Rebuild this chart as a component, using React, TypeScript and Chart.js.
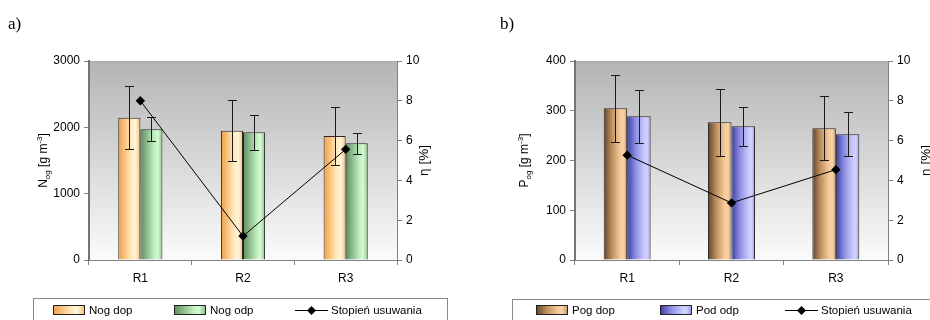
import React, { useEffect, useRef } from 'react';
import { Chart, registerables } from 'chart.js';

Chart.register(...registerables);

// ---------- data ----------
const categories = ['R1', 'R2', 'R3'];

// panel a)
const nogDopLabel = 'Nog dop';
const nogOdpLabel = 'Nog odp';
const nogDop = [2145, 1950, 1870];
const nogDopErr = [478, 462, 440];
const nogOdp = [1970, 1925, 1760];
const nogOdpErr = [180, 262, 160];
const nogEta = [8.0, 1.2, 5.56];
const nAxisMax = 3000;
const nAxisStep = 1000;

// panel b)
const pogDopLabel = 'Pog dop';
const podOdpLabel = 'Pod odp';
const pogDop = [305, 277, 265];
const pogDopErr = [67, 67, 64];
const podOdp = [289, 269, 253];
const podOdpErr = [53, 39, 44];
const pogEta = [5.27, 2.87, 4.54];
const pAxisMax = 400;
const pAxisStep = 100;

// shared right axis
const etaLabel = 'Stopień usuwania';
const etaMax = 10;
const etaStep = 2;

const FONT = "'Liberation Sans', Arial, Helvetica, sans-serif";

type Stops = [number, string][];
const orangeStops: Stops = [[0, '#f29e44'], [0.6, '#ffebc0'], [0.78, '#fff4d8'], [1, '#f7c27a']];
const greenStops: Stops = [[0, '#5c8c5c'], [0.65, '#c4f2c4'], [0.8, '#d2fad2'], [1, '#8fbf8f']];
const brownStops: Stops = [[0, '#5e4428'], [0.35, '#c09060'], [0.7, '#f6c996'], [0.85, '#f8d2a8'], [1, '#c89a68']];
const blueStops: Stops = [[0, '#3c3ca4'], [0.35, '#8c8ce0'], [0.7, '#c6c6fc'], [0.85, '#d2d2ff'], [1, '#9a9ae4']];

interface PanelCfg {
  left: number;
  letter: string;
  letterX: number;
  labels: [string, string];
  bars: [number[], number[]];
  errs: [number[], number[]];
  stops: [Stops, Stops];
  eta: number[];
  yMax: number;
  yStep: number;
  catPct: number;
  yWidth: number;
  y1Width: number;
  yTitle: { t: string; k?: 'sub' | 'sup' }[];
  yTitleX: number;
  y1TitleX: number;
  legendBox: [number, number, number];
  legendX: [number, number, number];
}

const panels: PanelCfg[] = [
  {
    left: 0,
    letter: 'a)',
    letterX: 8,
    labels: [nogDopLabel, nogOdpLabel],
    bars: [nogDop, nogOdp],
    errs: [nogDopErr, nogOdpErr],
    stops: [orangeStops, greenStops],
    eta: nogEta,
    yMax: nAxisMax,
    yStep: nAxisStep,
    catPct: 0.43,
    yWidth: 89,
    y1Width: 68,
    yTitle: [{ t: 'N' }, { t: 'og', k: 'sub' }, { t: ' [g m' }, { t: '-3', k: 'sup' }, { t: ']' }],
    yTitleX: 43,
    y1TitleX: 423,
    legendBox: [33.5, 298.5, 414],
    legendX: [53, 174, 295],
  },
  {
    left: 465,
    letter: 'b)',
    letterX: 35,
    labels: [pogDopLabel, podOdpLabel],
    bars: [pogDop, podOdp],
    errs: [pogDopErr, podOdpErr],
    stops: [brownStops, blueStops],
    eta: pogEta,
    yMax: pAxisMax,
    yStep: pAxisStep,
    catPct: 0.45,
    yWidth: 110,
    y1Width: 42,
    yTitle: [{ t: 'P' }, { t: 'og', k: 'sub' }, { t: ' [g m' }, { t: '-3', k: 'sup' }, { t: ']' }],
    yTitleX: 59,
    y1TitleX: 460,
    legendBox: [47.5, 299.5, 440],
    legendX: [71, 195, 320],
  },
];

function applyStops(g: CanvasGradient, stops: Stops) {
  stops.forEach(([o, c]) => g.addColorStop(o, c));
  return g;
}

function drawRichVertical(
  ctx: CanvasRenderingContext2D,
  parts: { t: string; k?: 'sub' | 'sup' }[],
  cx: number,
  cy: number,
  size: number,
) {
  ctx.save();
  ctx.translate(cx, cy);
  ctx.rotate(-Math.PI / 2);
  ctx.fillStyle = '#000';
  ctx.textBaseline = 'alphabetic';
  ctx.textAlign = 'left';
  const fontFor = (k?: string) => `${k ? Math.round(size * 0.68) : size}px ${FONT}`;
  let total = 0;
  const widths = parts.map((p) => {
    ctx.font = fontFor(p.k);
    const w = ctx.measureText(p.t).width;
    total += w;
    return w;
  });
  let x = -total / 2;
  const base = size * 0.36;
  parts.forEach((p, i) => {
    ctx.font = fontFor(p.k);
    const dy = p.k === 'sub' ? size * 0.25 : p.k === 'sup' ? -size * 0.42 : 0;
    ctx.fillText(p.t, x, base + dy);
    x += widths[i];
  });
  ctx.restore();
}

function makePanelChart(canvas: HTMLCanvasElement, cfg: PanelCfg) {
  const barBg = (stops: Stops) => (c: any) => {
    const chart = c.chart;
    const xs = chart.scales && chart.scales.x;
    if (c.type !== 'data' || !xs || !chart.chartArea) return stops[2][1];
    const center = xs.getPixelForValue(c.dataIndex);
    const cat = xs.width / categories.length;
    const barW = (cat * cfg.catPct) / 2;
    const left = center - barW + c.datasetIndex * barW;
    return applyStops(chart.ctx.createLinearGradient(left, 0, left + barW, 0), stops);
  };

  const panelPlugin = {
    id: 'panelPlugin',
    beforeDraw(chart: any) {
      const { ctx, chartArea: a } = chart;
      ctx.save();
      const g = ctx.createLinearGradient(0, a.top, 0, a.bottom);
      g.addColorStop(0, '#b4b4b4');
      g.addColorStop(1, '#fbfbfb');
      ctx.fillStyle = g;
      ctx.fillRect(a.left, a.top, a.right - a.left, a.bottom - a.top);
      ctx.strokeStyle = '#a8a8a8';
      ctx.lineWidth = 1;
      ctx.beginPath();
      ctx.moveTo(a.left, a.top + 0.5);
      ctx.lineTo(a.right, a.top + 0.5);
      ctx.stroke();
      ctx.restore();
    },
    afterDatasetDraw(chart: any, args: any) {
      const i = args.index;
      if (i > 1) return;
      const { ctx } = chart;
      const ys = chart.scales.y;
      const meta = args.meta;
      const vals = cfg.bars[i];
      const errs = cfg.errs[i];
      ctx.save();
      ctx.strokeStyle = '#1a1a1a';
      ctx.lineWidth = 1;
      meta.data.forEach((el: any, j: number) => {
        const x = Math.round(el.x) + 0.5;
        const yt = Math.round(ys.getPixelForValue(vals[j] + errs[j])) + 0.5;
        const yb = Math.round(ys.getPixelForValue(vals[j] - errs[j])) + 0.5;
        ctx.beginPath();
        ctx.moveTo(x, yt);
        ctx.lineTo(x, yb);
        ctx.moveTo(x - 4.5, yt);
        ctx.lineTo(x + 4.5, yt);
        ctx.moveTo(x - 4.5, yb);
        ctx.lineTo(x + 4.5, yb);
        ctx.stroke();
      });
      ctx.restore();
    },
    afterDraw(chart: any) {
      const { ctx, chartArea: a } = chart;
      const cy = (a.top + a.bottom) / 2;
      // panel letter
      ctx.save();
      ctx.font = `17px 'Liberation Serif', 'Times New Roman', serif`;
      ctx.fillStyle = '#000';
      ctx.textBaseline = 'alphabetic';
      ctx.textAlign = 'left';
      ctx.fillText(cfg.letter, cfg.letterX, 28.5);
      ctx.restore();
      // axis titles
      drawRichVertical(ctx, cfg.yTitle, cfg.yTitleX, cy, 12);
      drawRichVertical(ctx, [{ t: 'η [%]' }], cfg.y1TitleX, cy, 13.5);
      // legend frame
      const [bx, by, bw] = cfg.legendBox;
      ctx.save();
      ctx.strokeStyle = '#8a8a8a';
      ctx.lineWidth = 1;
      ctx.strokeRect(bx, by, bw, 60);
      // legend items
      const ly = 310;
      ctx.font = `11.5px ${FONT}`;
      ctx.fillStyle = '#000';
      ctx.textBaseline = 'middle';
      ctx.textAlign = 'left';
      chart.data.datasets.forEach((ds: any, k: number) => {
        const x0 = cfg.legendX[k];
        if (k < 2) {
          const g = applyStops(ctx.createLinearGradient(x0, 0, x0 + 31, 0), cfg.stops[k]);
          ctx.fillStyle = g;
          ctx.fillRect(x0, ly - 4.5, 31, 9);
          ctx.strokeStyle = '#222';
          ctx.strokeRect(x0 + 0.5, ly - 4.5, 31, 9);
          ctx.fillStyle = '#000';
          ctx.fillText(ds.label, x0 + 36, ly + 0.5);
        } else {
          ctx.strokeStyle = '#000';
          ctx.beginPath();
          ctx.moveTo(x0, ly + 0.5);
          ctx.lineTo(x0 + 33, ly + 0.5);
          ctx.stroke();
          const mx = x0 + 16.5;
          ctx.fillStyle = '#000';
          ctx.beginPath();
          ctx.moveTo(mx, ly - 4);
          ctx.lineTo(mx + 4.5, ly + 0.5);
          ctx.lineTo(mx, ly + 5);
          ctx.lineTo(mx - 4.5, ly + 0.5);
          ctx.closePath();
          ctx.fill();
          ctx.fillText(ds.label, x0 + 36, ly + 0.5);
        }
      });
      ctx.restore();
    },
  };

  const tickFont = { family: FONT, size: 12 };

  return new Chart(canvas, {
    type: 'bar',
    data: {
      labels: categories,
      datasets: [
        {
          type: 'bar',
          label: cfg.labels[0],
          data: cfg.bars[0],
          backgroundColor: barBg(cfg.stops[0]),
          borderColor: '#262626',
          borderWidth: 1,
          categoryPercentage: cfg.catPct,
          barPercentage: 1,
          yAxisID: 'y',
          order: 1,
        },
        {
          type: 'bar',
          label: cfg.labels[1],
          data: cfg.bars[1],
          backgroundColor: barBg(cfg.stops[1]),
          borderColor: '#262626',
          borderWidth: 1,
          categoryPercentage: cfg.catPct,
          barPercentage: 1,
          yAxisID: 'y',
          order: 1,
        },
        {
          type: 'line',
          label: etaLabel,
          data: cfg.eta,
          borderColor: '#000',
          borderWidth: 1,
          backgroundColor: '#000',
          pointStyle: 'rectRot',
          pointRadius: 4.7,
          pointBackgroundColor: '#000',
          pointBorderColor: '#000',
          pointBorderWidth: 0,
          tension: 0,
          yAxisID: 'y1',
          order: 0,
        } as any,
      ],
    },
    options: {
      responsive: false,
      animation: false,
      devicePixelRatio: 1,
      layout: { padding: { top: 61, left: 0, right: 0, bottom: 30 } },
      plugins: {
        legend: { display: false },
        tooltip: { enabled: false },
        title: { display: false },
      },
      scales: {
        x: {
          type: 'category',
          offset: true,
          grid: { display: true, drawOnChartArea: false, drawTicks: true, tickLength: 5, color: '#808080', offset: true },
          border: { display: true, color: '#808080', width: 1 },
          ticks: { font: tickFont, color: '#000', padding: 6, maxRotation: 0 },
          afterFit: (s: any) => { s.height = 30; },
        },
        y: {
          type: 'linear',
          position: 'left',
          min: 0,
          max: cfg.yMax,
          grid: { display: true, drawOnChartArea: false, tickLength: 5, color: '#808080' },
          border: { display: true, color: '#747474', width: 2 },
          ticks: { stepSize: cfg.yStep, font: tickFont, color: '#000', padding: 4, callback: (v: any) => String(v) },
          afterFit: (s: any) => { s.width = cfg.yWidth; },
        },
        y1: {
          type: 'linear',
          position: 'right',
          min: 0,
          max: etaMax,
          grid: { display: true, drawOnChartArea: false, tickLength: 5, color: '#808080' },
          border: { display: true, color: '#808080', width: 1 },
          ticks: { stepSize: etaStep, font: tickFont, color: '#000', padding: 4, callback: (v: any) => String(v) },
          afterFit: (s: any) => { s.width = cfg.y1Width; },
        },
      },
    } as any,
    plugins: [panelPlugin],
  });
}

function Panel({ cfg }: { cfg: PanelCfg }) {
  const ref = useRef<HTMLCanvasElement>(null);
  useEffect(() => {
    const chart = makePanelChart(ref.current as HTMLCanvasElement, cfg);
    return () => chart.destroy();
  }, [cfg]);
  return (
    <canvas
      ref={ref}
      width={465}
      height={320}
      style={{ position: 'absolute', left: cfg.left, top: 0, width: 465, height: 320 }}
    />
  );
}

export default function App() {
  return (
    <div style={{ position: 'absolute', left: 0, top: 0, width: 930, height: 320, background: '#fff', overflow: 'hidden' }}>
      {panels.map((p) => (
        <Panel key={p.letter} cfg={p} />
      ))}
    </div>
  );
}
